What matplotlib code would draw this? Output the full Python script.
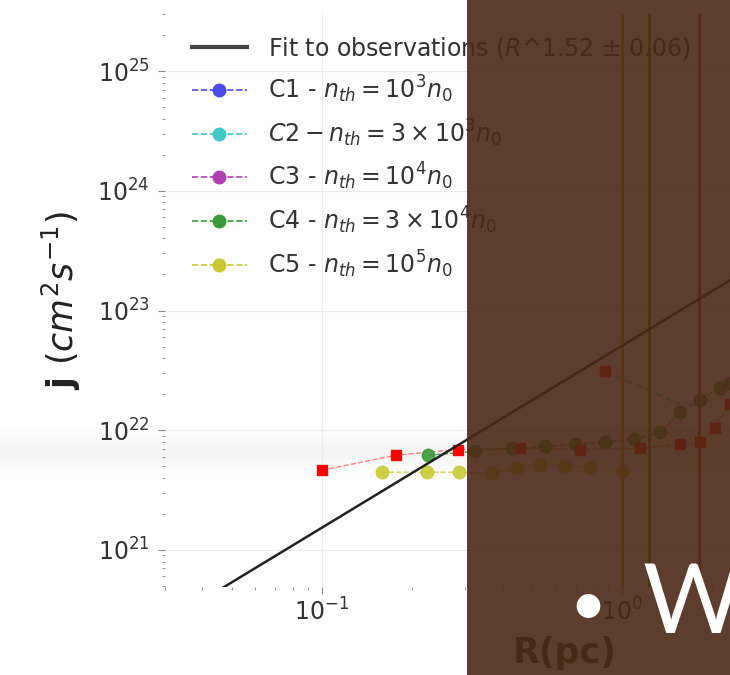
import numpy as np
import matplotlib
matplotlib.use("Agg")
import matplotlib.pyplot as plt
from matplotlib.lines import Line2D
from matplotlib.patches import Rectangle

# fit to observations: j = A * R^1.52
fit_R = [0.03, 3.0]
fit_A = 5.08e22
fit_slope = 1.52

# red squares (unlabelled)
red_R = [0.100, 0.177, 0.284, 0.457, 0.724, 1.148, 1.56, 1.82, 2.04, 2.29]
red_j = [4.63e21, 6.2e21, 6.9e21, 7.07e21, 6.9e21, 7.07e21, 7.6e21, 7.9e21, 1.05e22, 1.65e22]

# C2 branch starting at the isolated red square
c2_R = [0.877, 1.06, 1.29, 1.56]
c2_j = [3.12e22, 2.52e22, 2.04e22, 1.65e22]

# C4 (green)
c4_R = [0.226, 0.324, 0.43, 0.554, 0.697, 0.877, 1.10, 1.34, 1.56, 1.82, 2.12, 2.29]
c4_j = [6.18e21, 6.67e21, 7.07e21, 7.35e21, 7.64e21, 7.94e21, 8.4e21, 9.6e21,
        1.41e22, 1.8e22, 2.25e22, 2.47e22]

# C5 (yellow)
c5_R = [0.158, 0.224, 0.286, 0.369, 0.447, 0.533, 0.645, 0.782, 1.0]
c5_j = [4.46e21, 4.46e21, 4.46e21, 4.37e21, 4.8e21, 5.1e21, 5.0e21, 4.9e21, 4.6e21]

# end-of-run markers
end_R = [1.0, 1.23, 1.81]
end_colors = ["#e0a000", "#6a8a00", "#c03020"]

labels = [r"Fit to observations ($R$^1.52 $\pm$ 0.06)",
          r"C1 - $n_{th} = 10^3n_0$",
          r"$C2 - n_{th} = 3\times10^3n_0$",
          r"C3 - $n_{th} = 10^4n_0$",
          r"C4 - $n_{th} = 3\times10^4n_0$",
          r"C5 - $n_{th} = 10^5n_0$"]
colors = ["#444444", "#4a4aee", "#40c8c8", "#b040b0", "#3a9a3a", "#c8c830"]

fig = plt.figure(figsize=(7.3, 6.75), dpi=100)

# faint grey band behind the plot (slide artefact)
bg = fig.add_axes([0, 0, 1, 1], zorder=-1)
rows = np.arange(675)
grad = np.repeat((1 - 0.04 * np.exp(-((rows - 452) / 18.0) ** 2))[:, None], 10, axis=1)
bg.imshow(grad, cmap="gray", vmin=0, vmax=1, aspect="auto", extent=[0, 1, 0, 1])
bg.axis("off")

ax = fig.add_axes([165 / 730, 88 / 675, 1 - 165 / 730, 573 / 675])
ax.patch.set_alpha(0)
ax.set_xscale("log")
ax.set_yscale("log")

fx = np.array(fit_R)
ax.plot(fx, fit_A * fx ** fit_slope, "-", color="#222222", lw=1.8, zorder=4)

ax.plot(red_R, red_j, "--", color="#ff3030", lw=1, alpha=0.6)
ax.plot(red_R, red_j, "s", color="#ff0000", ms=7, zorder=3, ls="none")
ax.plot(c2_R, c2_j, "--", color=colors[2], lw=1.5, alpha=0.7)
ax.plot(c2_R[:1], c2_j[:1], "s", color="#ff0000", ms=7, ls="none")
ax.plot(c4_R, c4_j, "--o", color=colors[4], lw=1, ms=9, alpha=0.9)
ax.plot(c5_R, c5_j, "--o", color=colors[5], lw=1, ms=9, alpha=0.85)

for r, c in zip(end_R, end_colors):
    ax.axvline(r, color=c, lw=2)

ax.set_xlim(0.030, 2.29)
ax.set_ylim(4.9e20, 3.0e25)
for s in ax.spines.values():
    s.set_visible(False)
ax.grid(True, which="major", color="#ececec", lw=0.8)
ax.tick_params(which="both", colors="#888888", labelcolor="#333333", labelsize=17)
ax.tick_params(axis="y", which="major", length=5, pad=6)
ax.tick_params(axis="x", which="major", length=5)
ax.tick_params(which="minor", length=2.5)
ax.set_yticks([1e21, 1e22, 1e23, 1e24, 1e25])
ax.set_xticks([0.1, 1.0])

ax.set_ylabel(r"j $(cm^2s^{-1})$", fontsize=25, fontweight="bold", color="#222222")
ax.yaxis.set_label_coords(-0.145, 0.5)
ax.set_xlabel("R(pc)", fontsize=25, fontweight="bold", color="#333333")
ax.xaxis.set_label_coords(0.708, -0.085)

handles = [Line2D([], [], color=colors[0], lw=3)]
for c in colors[1:]:
    handles.append(Line2D([], [], color=c, ls="--", lw=1.2, marker="o", ms=9))
ax.legend(handles, labels, loc="upper left", bbox_to_anchor=(0.010, 1.0),
          frameon=False, fontsize=17, handlelength=2.33, handletextpad=0.9,
          labelspacing=0.52, numpoints=1, labelcolor="#333333")

# brown overlay of the slide
fig.add_artist(Rectangle((467 / 730, 0), 1 - 467 / 730, 1, transform=fig.transFigure,
                         facecolor=(75 / 255, 40 / 255, 22 / 255), alpha=0.9,
                         edgecolor="none", zorder=10))
fig.text(588 / 730, 1 - 607 / 675, "\u2022", color="white", fontsize=46,
         family="Lato", ha="center", va="center", zorder=11)
fig.text(642 / 730, 1 - 633 / 675, "W", color="white", fontsize=70,
         family="Lato", ha="left", va="baseline", zorder=11)

fig.savefig("out.png", dpi=100)
